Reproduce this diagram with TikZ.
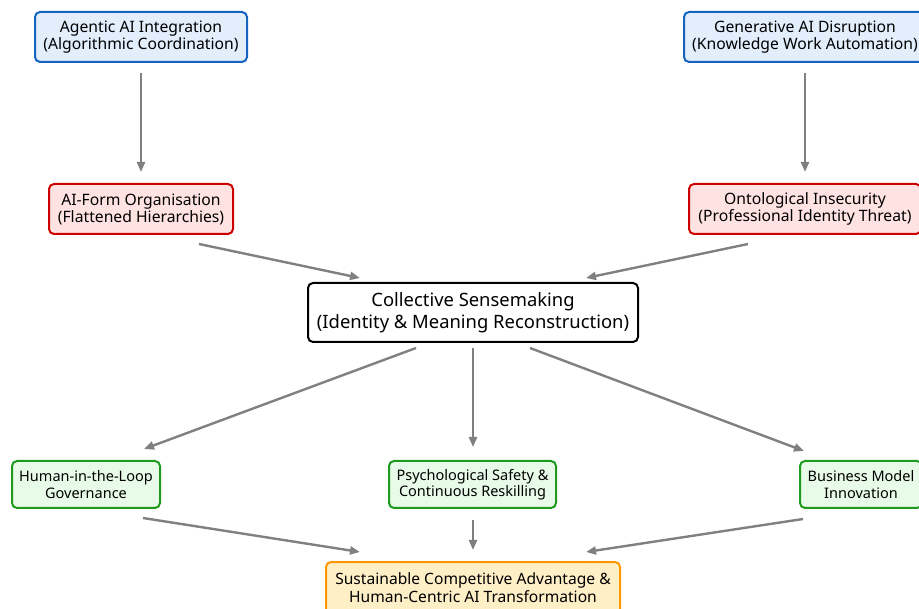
\documentclass[tikz,border=0pt]{standalone}
\usepackage{fontspec}
\setmainfont{Noto Sans}
\usetikzlibrary{arrows.meta}
\definecolor{bluebd}{HTML}{1565C0}
\definecolor{bluefl}{HTML}{E3EEFD}
\definecolor{redbd}{HTML}{CC0000}
\definecolor{redfl}{HTML}{FFE3E3}
\definecolor{greenbd}{HTML}{1E9A1E}
\definecolor{greenfl}{HTML}{E8FBE8}
\definecolor{orangebd}{HTML}{FF9800}
\definecolor{orangefl}{HTML}{FFEFC7}
\definecolor{arrowgray}{HTML}{808080}
\tikzset{
  box/.style={draw, rounded corners=5pt, line width=2pt, align=center, inner sep=0pt},
  bluebox/.style={box, draw=bluebd, fill=bluefl, font=\fontsize{15.7}{17}\selectfont},
  redbox/.style={box, draw=redbd, fill=redfl, font=\fontsize{15.7}{17}\selectfont},
  centerbox/.style={box, draw=black, fill=white, font=\fontsize{18.4}{22}\selectfont},
  greenbox/.style={box, draw=greenbd, fill=greenfl, font=\fontsize{14.5}{16.5}\selectfont},
  orangebox/.style={box, draw=orangebd, fill=orangefl, font=\fontsize{15.6}{18}\selectfont},
  arr/.style={draw=arrowgray, line width=2.4pt, -{Triangle[length=10pt,width=8pt]}, arrowgray}
}
\begin{document}
\begin{tikzpicture}[x=1pt,y=-1pt]
\useasboundingbox (0,0) rectangle (919,609);
% nodes
\node[bluebox, minimum width=212pt, minimum height=50pt] (agentic) at (141,37) {Agentic AI Integration\\(Algorithmic Coordination)};
\node[bluebox, minimum width=242pt, minimum height=50pt] (generative) at (805,37) {Generative AI Disruption\\(Knowledge Work Automation)};
\node[redbox, minimum width=184pt, minimum height=50pt] (aiform) at (141,209) {AI-Form Organisation\\(Flattened Hierarchies)};
\node[redbox, minimum width=232pt, minimum height=50pt] (onto) at (805,209) {Ontological Insecurity\\(Professional Identity Threat)};
\node[centerbox, minimum width=330pt, minimum height=59pt] (sense) at (473,312.5) {Collective Sensemaking\\(Identity \& Meaning Reconstruction)};
\node[greenbox, minimum width=148pt, minimum height=47pt] (hitl) at (86,484.5) {Human-in-the-Loop\\Governance};
\node[greenbox, minimum width=167pt, minimum height=47pt] (psych) at (472.5,484.5) {Psychological Safety \&\\Continuous Reskilling};
\node[greenbox, minimum width=122pt, minimum height=47pt] (bmi) at (861,484.5) {Business Model\\Innovation};
\node[orangebox, minimum width=294pt, minimum height=52pt] (sust) at (473,588) {Sustainable Competitive Advantage \&\\Human-Centric AI Transformation};
% arrow endpoints
\coordinate (a1s) at (141,73);  \coordinate (a1e) at (141,172);
\coordinate (a2s) at (805,73);  \coordinate (a2e) at (805,172);
\coordinate (a3s) at (199,244); \coordinate (a3e) at (360,278);
\coordinate (a4s) at (748,244); \coordinate (a4e) at (586,278);
\coordinate (a5s) at (416,348); \coordinate (a5e) at (144,449);
\coordinate (a6s) at (473,348); \coordinate (a6e) at (473,447);
\coordinate (a7s) at (530,348); \coordinate (a7e) at (804,451);
\coordinate (a8s) at (143,518); \coordinate (a8e) at (360,552);
\coordinate (a9s) at (473,520); \coordinate (a9e) at (473,550);
\coordinate (a10s) at (803,519); \coordinate (a10e) at (586,552);
\draw[arr] (a1s) -- (a1e);
\draw[arr] (a2s) -- (a2e);
\draw[arr] (a3s) -- (a3e);
\draw[arr] (a4s) -- (a4e);
\draw[arr] (a5s) -- (a5e);
\draw[arr] (a6s) -- (a6e);
\draw[arr] (a7s) -- (a7e);
\draw[arr] (a8s) -- (a8e);
\draw[arr] (a9s) -- (a9e);
\draw[arr] (a10s) -- (a10e);
\end{tikzpicture}
\end{document}
